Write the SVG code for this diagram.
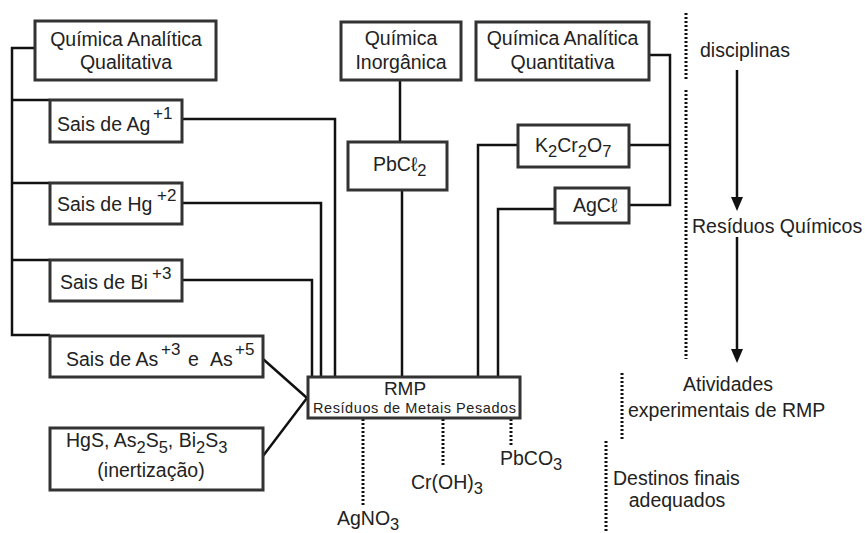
<svg xmlns="http://www.w3.org/2000/svg" width="865" height="533" viewBox="0 0 865 533">
<style>
.box{fill:#fff;stroke:#333;stroke-width:3}
.ln{fill:none;stroke:#111;stroke-width:2.5}
.dot{fill:none;stroke:#111;stroke-width:3;stroke-dasharray:2 2}
text{font-family:"Liberation Sans",Arial,sans-serif;font-size:19.5px;fill:#222}
.c{text-anchor:middle}
.sm{font-size:16.5px}
.sup{font-size:17px}
</style>
<g id="connectors">
<polyline class="ln" points="35,48 12,48 12,335 50,335"/>
<line class="ln" x1="12" y1="100" x2="50" y2="100"/>
<line class="ln" x1="12" y1="183" x2="50" y2="183"/>
<line class="ln" x1="12" y1="260" x2="50" y2="260"/>
<polyline class="ln" points="182,119 335,119 335,377"/>
<polyline class="ln" points="182,203 321,203 321,377"/>
<polyline class="ln" points="182,280 312,280 312,377"/>
<polyline class="ln" points="263,359 307,398 263,456"/>
<line class="ln" x1="400" y1="80" x2="400" y2="142"/>
<line class="ln" x1="402" y1="190" x2="402" y2="377"/>
<polyline class="ln" points="518,145 478,145 478,377"/>
<polyline class="ln" points="555,209 498,209 498,377"/>
<polyline class="ln" points="649,55 670,55 670,205 629,205"/>
<line class="ln" x1="629" y1="145" x2="670" y2="145"/>
<line class="dot" x1="363" y1="419" x2="363" y2="507"/>
<line class="dot" x1="443" y1="419" x2="443" y2="467"/>
<line class="dot" x1="511" y1="419" x2="511" y2="447"/>
<line class="dot" x1="686" y1="13" x2="686" y2="79"/>
<line class="dot" x1="686" y1="90" x2="686" y2="359"/>
<line class="dot" x1="622" y1="373" x2="622" y2="439"/>
<line class="dot" x1="606" y1="441" x2="606" y2="533"/>
<line class="ln" x1="737" y1="70" x2="737" y2="198"/>
<path d="M731,197 L743,197 L737,211 Z" fill="#111"/>
<line class="ln" x1="737" y1="237" x2="737" y2="350"/>
<path d="M731,349 L743,349 L737,363 Z" fill="#111"/>
</g>
<g id="qaq">
<rect class="box" x="35" y="21" width="181" height="59"/>
<text class="c" x="126" y="46">Química Analítica</text>
<text class="c" x="126" y="69">Qualitativa</text>
</g>
<g id="ag">
<rect class="box" x="50" y="100" width="132" height="42"/>
<text x="57" y="131">Sais de Ag</text>
<text class="sup" x="153" y="119">+1</text>
</g>
<g id="hg">
<rect class="box" x="50" y="183" width="132" height="41"/>
<text x="57" y="211">Sais de Hg</text>
<text class="sup" x="157" y="201">+2</text>
</g>
<g id="bi">
<rect class="box" x="50" y="260" width="132" height="41"/>
<text x="60" y="289">Sais de Bi</text>
<text class="sup" x="152" y="279">+3</text>
</g>
<g id="as">
<rect class="box" x="50" y="336" width="213" height="41"/>
<text x="66" y="366">Sais de As</text>
<text class="sup" x="161" y="355">+3</text>
<text x="188" y="366">e</text>
<text x="210" y="366">As</text>
<text class="sup" x="235" y="355">+5</text>
</g>
<g id="hgs">
<rect class="box" x="50" y="428" width="213" height="62"/>
<text x="66" y="447">HgS, As<tspan class="sm" dy="6">2</tspan><tspan dy="-6">S</tspan><tspan class="sm" dy="6">5</tspan><tspan dy="-6">, Bi</tspan><tspan class="sm" dy="6">2</tspan><tspan dy="-6">S</tspan><tspan class="sm" dy="6">3</tspan></text>
<text class="c" x="151" y="477">(inertização)</text>
</g>
<g id="qi">
<rect class="box" x="341" y="22" width="120" height="58"/>
<text class="c" x="401" y="45">Química</text>
<text class="c" x="401" y="69">Inorgânica</text>
</g>
<g id="pbcl2">
<rect class="box" x="348" y="142" width="99" height="48"/>
<text x="373" y="171">PbCℓ<tspan class="sm" dy="5">2</tspan></text>
</g>
<g id="qaqt">
<rect class="box" x="476" y="22" width="173" height="58"/>
<text class="c" x="562.5" y="45">Química Analítica</text>
<text class="c" x="562.5" y="69">Quantitativa</text>
</g>
<g id="k2cr2o7">
<rect class="box" x="518" y="125" width="111" height="42"/>
<text x="535" y="152">K<tspan class="sm" dy="5">2</tspan><tspan dy="-5">Cr</tspan><tspan class="sm" dy="5">2</tspan><tspan dy="-5">O</tspan><tspan class="sm" dy="5">7</tspan></text>
</g>
<g id="agcl">
<rect class="box" x="555" y="188" width="74" height="35"/>
<text x="573" y="212">AgCℓ</text>
</g>
<g id="rmp">
<rect class="box" x="308" y="377" width="212" height="41"/>
<text class="c" x="405" y="395" style="font-size:19px">RMP</text>
<text x="313" y="412.5" style="font-size:14.5px" textLength="203" lengthAdjust="spacing">Resíduos de Metais Pesados</text>
</g>
<g id="products">
<text x="337" y="525">AgNO<tspan class="sm" dy="5">3</tspan></text>
<text x="411" y="489">Cr(OH)<tspan class="sm" dy="5">3</tspan></text>
<text x="500" y="465">PbCO<tspan class="sm" dy="5">3</tspan></text>
</g>
<g id="legend">
<text x="700" y="57">disciplinas</text>
<text x="692" y="233">Resíduos Químicos</text>
<text class="c" x="728" y="391">Atividades</text>
<text x="628" y="417">experimentais de RMP</text>
<text x="613" y="485">Destinos finais</text>
<text class="c" x="677" y="507">adequados</text>
</g>
</svg>
